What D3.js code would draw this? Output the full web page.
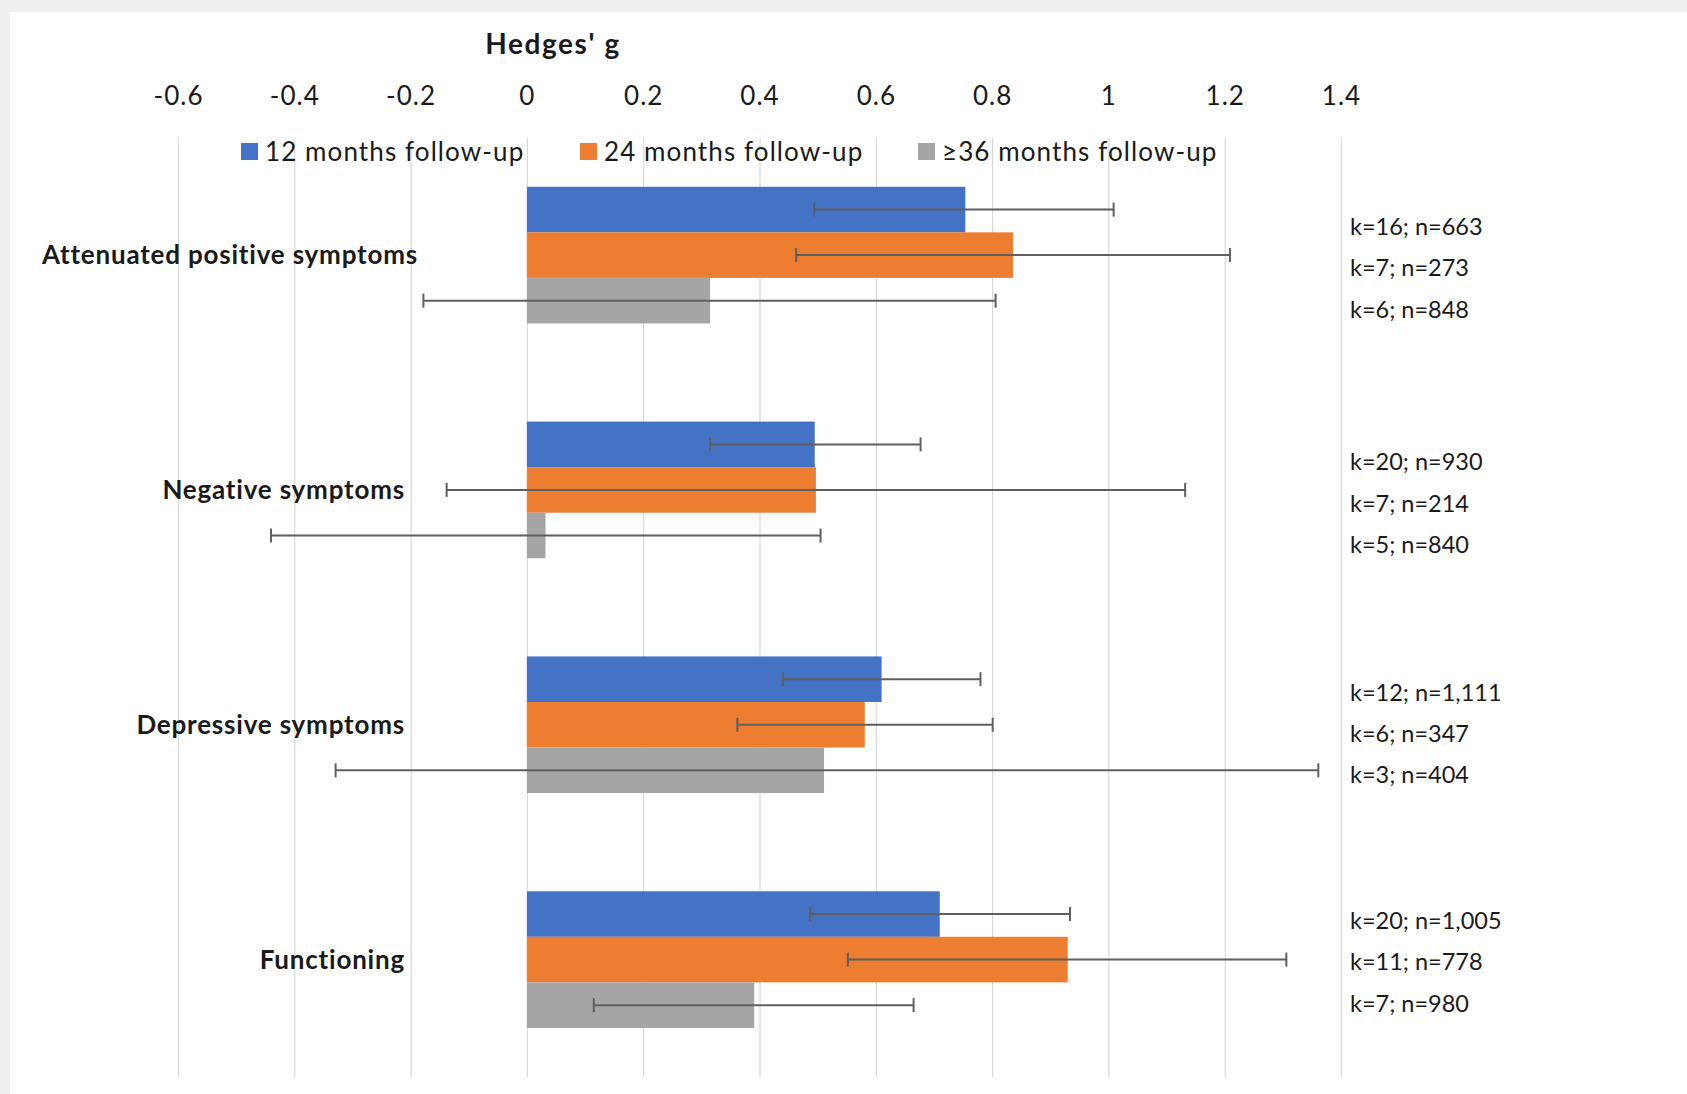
<!DOCTYPE html>
<html>
<head>
<meta charset="utf-8">
<script src="https://cdn.jsdelivr.net/npm/d3@7"></script>
<style>
  body { margin: 0; background: #ffffff; }
  svg text { font-family: Lato, "Open Sans", sans-serif; fill: #1a1a1a; }
</style>
</head>
<body>
<div id="chart"></div>
<script>
// outcome categories, top to bottom
const categories = [
  "Attenuated positive symptoms",
  "Negative symptoms",
  "Depressive symptoms",
  "Functioning"
];
const seriesNames = ["12 months follow-up", "24 months follow-up", "\u226536 months follow-up"];

// Hedges' g per category for each follow-up
const g12 = [0.754, 0.495, 0.610, 0.710];
const g24 = [0.836, 0.497, 0.581, 0.930];
const g36 = [0.315, 0.032, 0.511, 0.391];

// 95% CI lower / upper bounds
const lo12 = [0.494, 0.315, 0.440, 0.487];
const hi12 = [1.009, 0.677, 0.780, 0.934];
const lo24 = [0.463, -0.138, 0.362, 0.552];
const hi24 = [1.209, 1.132, 0.801, 1.306];
const lo36 = [-0.178, -0.440, -0.329, 0.115];
const hi36 = [0.806, 0.505, 1.361, 0.665];

// k studies; n participants
const notes12 = ["k=16; n=663", "k=20; n=930", "k=12; n=1,111", "k=20; n=1,005"];
const notes24 = ["k=7; n=273", "k=7; n=214", "k=6; n=347", "k=11; n=778"];
const notes36 = ["k=6; n=848", "k=5; n=840", "k=3; n=404", "k=7; n=980"];

const xTicks = [-0.6, -0.4, -0.2, 0, 0.2, 0.4, 0.6, 0.8, 1, 1.2, 1.4];
const tickLabels = ["-0.6", "-0.4", "-0.2", "0", "0.2", "0.4", "0.6", "0.8", "1", "1.2", "1.4"];

const colors = ["#4472C4", "#ED7D31", "#A5A5A5"];

const width = 1687;
const height = 1094;
const plotTop = 137.7;
const plotBottom = 1077;

const svg = d3.select("#chart")
  .append("svg")
  .attr("width", width)
  .attr("height", height);

// page edge, like the screenshot
svg.append("rect").attr("width", width).attr("height", height).attr("fill", "#efefef");
svg.append("rect").attr("x", 10).attr("y", 12).attr("width", width - 10).attr("height", height - 12).attr("fill", "#ffffff");

const x = d3.scaleLinear().domain([-0.6, 1.4]).range([178, 1341]);
const y = d3.scaleBand()
  .domain(categories)
  .range([plotTop, plotBottom])
  .paddingInner(0.418)
  .paddingOuter(0.209);
const ySub = d3.scaleBand().domain(seriesNames).range([0, y.bandwidth()]);

// gridlines
svg.append("g")
  .attr("transform", "translate(0," + plotTop + ")")
  .call(d3.axisTop(x).tickValues(xTicks).tickSize(-(plotBottom - plotTop)).tickFormat(""))
  .call(g => g.select(".domain").remove())
  .selectAll("line")
  .attr("stroke", "#d9d9d9")
  .attr("stroke-width", 1.2);

// tick labels along the top
svg.append("g")
  .attr("transform", "translate(0,105)")
  .call(d3.axisTop(x).tickValues(xTicks).tickSize(0).tickPadding(0).tickFormat((d, i) => tickLabels[i]))
  .call(g => g.select(".domain").remove())
  .selectAll("text")
  .style("font-size", "26px")
  .style("letter-spacing", "1px")
  .style("font-family", "Lato, sans-serif")
  .attr("fill", "#1a1a1a");

svg.append("text")
  .attr("x", 553)
  .attr("y", 54)
  .attr("text-anchor", "middle")
  .style("font-size", "28px")
  .style("letter-spacing", "1.6px")
  .style("font-weight", "bold")
  .text("Hedges' g");

// legend
const legendX = [241, 580, 918];
seriesNames.forEach((name, i) => {
  svg.append("rect")
    .attr("x", legendX[i])
    .attr("y", 143)
    .attr("width", 17)
    .attr("height", 17)
    .attr("fill", colors[i]);
  svg.append("text")
    .attr("x", legendX[i] + 24)
    .attr("y", 161)
    .style("font-size", "26px")
    .style("letter-spacing", "1.1px")
    .text(name);
});

const values = [g12, g24, g36];
const lows = [lo12, lo24, lo36];
const highs = [hi12, hi24, hi36];
const notes = [notes12, notes24, notes36];

// bars
seriesNames.forEach((name, s) => {
  svg.append("g")
    .selectAll("rect")
    .data(categories)
    .join("rect")
    .attr("x", (d, i) => Math.min(x(0), x(values[s][i])))
    .attr("y", d => y(d) + ySub(name))
    .attr("width", (d, i) => Math.abs(x(values[s][i]) - x(0)))
    .attr("height", ySub.bandwidth())
    .attr("fill", colors[s]);
});

// error bars
const capH = 14;
seriesNames.forEach((name, s) => {
  const eg = svg.append("g").attr("stroke", "#5f5f5f").attr("stroke-width", 2);
  categories.forEach((c, i) => {
    const cy = y(c) + ySub(name) + ySub.bandwidth() / 2;
    eg.append("line")
      .attr("x1", x(lows[s][i])).attr("x2", x(highs[s][i]))
      .attr("y1", cy).attr("y2", cy);
    [lows[s][i], highs[s][i]].forEach(v => {
      eg.append("line")
        .attr("x1", x(v)).attr("x2", x(v))
        .attr("y1", cy - capH / 2).attr("y2", cy + capH / 2);
    });
  });
});

// category labels
svg.append("g")
  .selectAll("text")
  .data(categories)
  .join("text")
  .attr("x", (d, i) => i === 0 ? 418 : 405)
  .attr("y", d => y(d) + y.bandwidth() / 2)
  .attr("dy", "0.35em")
  .attr("text-anchor", "end")
  .style("font-size", "26px")
  .style("letter-spacing", "0.8px")
  .style("font-weight", "bold")
  .text(d => d);

// k / n notes at the right
const noteShift = [12.8, 13.6, 9.1, 2.4];
const noteGap = 41.4;
categories.forEach((c, i) => {
  const mid = y(c) + y.bandwidth() / 2 + noteShift[i];
  notes.forEach((arr, s) => {
    svg.append("text")
      .attr("x", 1350)
      .attr("y", mid + (s - 1) * noteGap)
      .attr("dy", "0.35em")
      .style("font-size", "23.5px")
      .style("font-variant-numeric", "tabular-nums")
      .text(arr[i]);
  });
});
</script>
</body>
</html>
